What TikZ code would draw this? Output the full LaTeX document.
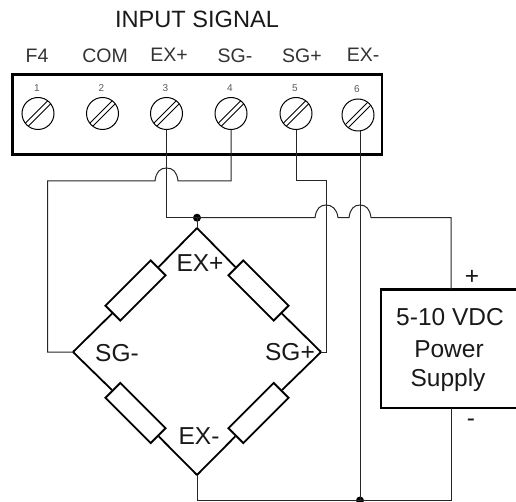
\documentclass[tikz,border=0pt]{standalone}
\usepackage{fontspec}
\setmainfont{Liberation Sans}
\usetikzlibrary{calc}
\begin{document}
\begin{tikzpicture}[x=1pt,y=-1pt,
  wire/.style={line width=1pt,draw=black!85},
  bold/.style={line width=2.2pt,draw=black},
  screw/.style={circle,draw=black,line width=1pt,minimum size=32pt,inner sep=0pt},
  slot/.style={line width=1pt,draw=black},
  resistor/.style={rectangle,draw=black,line width=1.8pt,fill=white,minimum width=64pt,minimum height=21pt,inner sep=0pt},
  arm/.style={line width=1.8pt,draw=black},
  lbl/.style={inner sep=0pt,text=black!80,font=\fontsize{19.5}{22}\selectfont},
  tinylbl/.style={inner sep=0pt,text=black!65,font=\fontsize{10}{12}\selectfont},
  big/.style={inner sep=0pt,text=black!90,font=\fontsize{24.5}{28}\selectfont},
  dotnode/.style={circle,fill=black,minimum size=8pt,inner sep=0pt}]
\useasboundingbox (0,0) rectangle (516,502);
\node[inner sep=0pt,text=black!90,font=\fontsize{23.6}{26}\selectfont] (title) at (197,19) {INPUT SIGNAL};
\node[lbl] (l1) at (37,56) {F4};
\node[lbl] (l2) at (105,56) {COM};
\node[lbl] (l3) at (169,55) {EX+};
\node[lbl] (l4) at (235,56) {SG-};
\node[lbl] (l5) at (302,56) {SG+};
\node[lbl] (l6) at (363,55) {EX-};
\draw[bold] (12.5,74.5) rectangle (382,154.5);
\foreach \n/\x/\y/\ny in {1/38/113.5/88,2/102.5/113.5/88,3/166.5/113.5/88,4/231/113.5/88,5/296/113.5/88,6/358/115/89}{
  \node[screw] (s\n) at (\x,\y) {};
  \node[tinylbl] (n\n) at (\x-1,\ny) {\n};
  \draw[slot] ($(s\n.center)+(-12.5,9.5)$) -- ($(s\n.center)+(9.5,-12.5)$);
  \draw[slot] ($(s\n.center)+(-9.5,12.5)$) -- ($(s\n.center)+(12.5,-9.5)$);
}
% bridge
\coordinate (top) at (197,228);
\coordinate (lft) at (73,352);
\coordinate (bot) at (197,475);
\coordinate (rgt) at (321,352);
\node[resistor,rotate=45] (r1) at (135.5,290.5) {};
\node[resistor,rotate=-45] (r2) at (258.5,290.5) {};
\node[resistor,rotate=-45] (r3) at (135.5,413) {};
\node[resistor,rotate=45] (r4) at (258.5,413) {};
\draw[arm] (top) -- (r1);
\draw[arm] (r1) -- (lft);
\draw[arm] (lft) -- (r3);
\draw[arm] (r3) -- (bot);
\draw[arm] (bot) -- (r4);
\draw[arm] (r4) -- (rgt);
\draw[arm] (rgt) -- (r2);
\draw[arm] (r2) -- (top);
\node[big] (ep) at (200,263) {EX+};
\node[big] (sm) at (117,353) {SG-};
\node[big] (em) at (199,436) {EX-};
\node[big] (sp) at (290,352) {SG+};
% power supply
\coordinate (pTL) at (381,289.5);
\coordinate (pTR) at (516,289.5);
\coordinate (pBL) at (381,408);
\coordinate (pBR) at (516,408);
\draw[bold] (pTR) -- (pTL) -- (pBL) -- (pBR);
\node[big] (v1) at (450,317) {5-10 VDC};
\node[big] (v2) at (449,349) {Power};
\node[big] (v3) at (448,380) {Supply};
\node[big] (plus) at (472,277) {+};
\node[big] (minus) at (471,423) {-};
\coordinate (pPlus) at (451,289.5);
\coordinate (pMinus) at (451,408);
% nodes
\node[dotnode] (dA) at (197,217.7) {};
\node[dotnode] (dB) at (360,500.5) {};
% wires
\draw[wire] (s3.south) -- (166.5,217.7) -- (dA.center);
\draw[wire] (dA.center) -- (top);
\draw[wire] (dA.center) -- (315,217.7) .. controls (316,209) and (320,205) .. (326,205) .. controls (332,205) and (337,209) .. (338,217.7) -- (349,217.7) .. controls (350,209) and (354,205) .. (360,205) .. controls (366,205) and (370,209) .. (371,217.7) -- (451,217.7) -- (pPlus);
\draw[wire] (s4.south) -- (231,181) -- (178,181) .. controls (177,172) and (173,168) .. (166.5,168) .. controls (160,168) and (156,172) .. (155,181) -- (47.5,181) -- (47.5,352) -- (lft);
\draw[wire] (s5.south) -- (296,180.5) -- (326,180.5) -- (326,352) -- (rgt);
\draw[wire] (s6.south) ++(2,0) -- (dB.center);
\draw[wire] (bot) -- (197,500.5) -- (dB.center) -- (451,500.5) -- (pMinus);
\end{tikzpicture}
\end{document}
